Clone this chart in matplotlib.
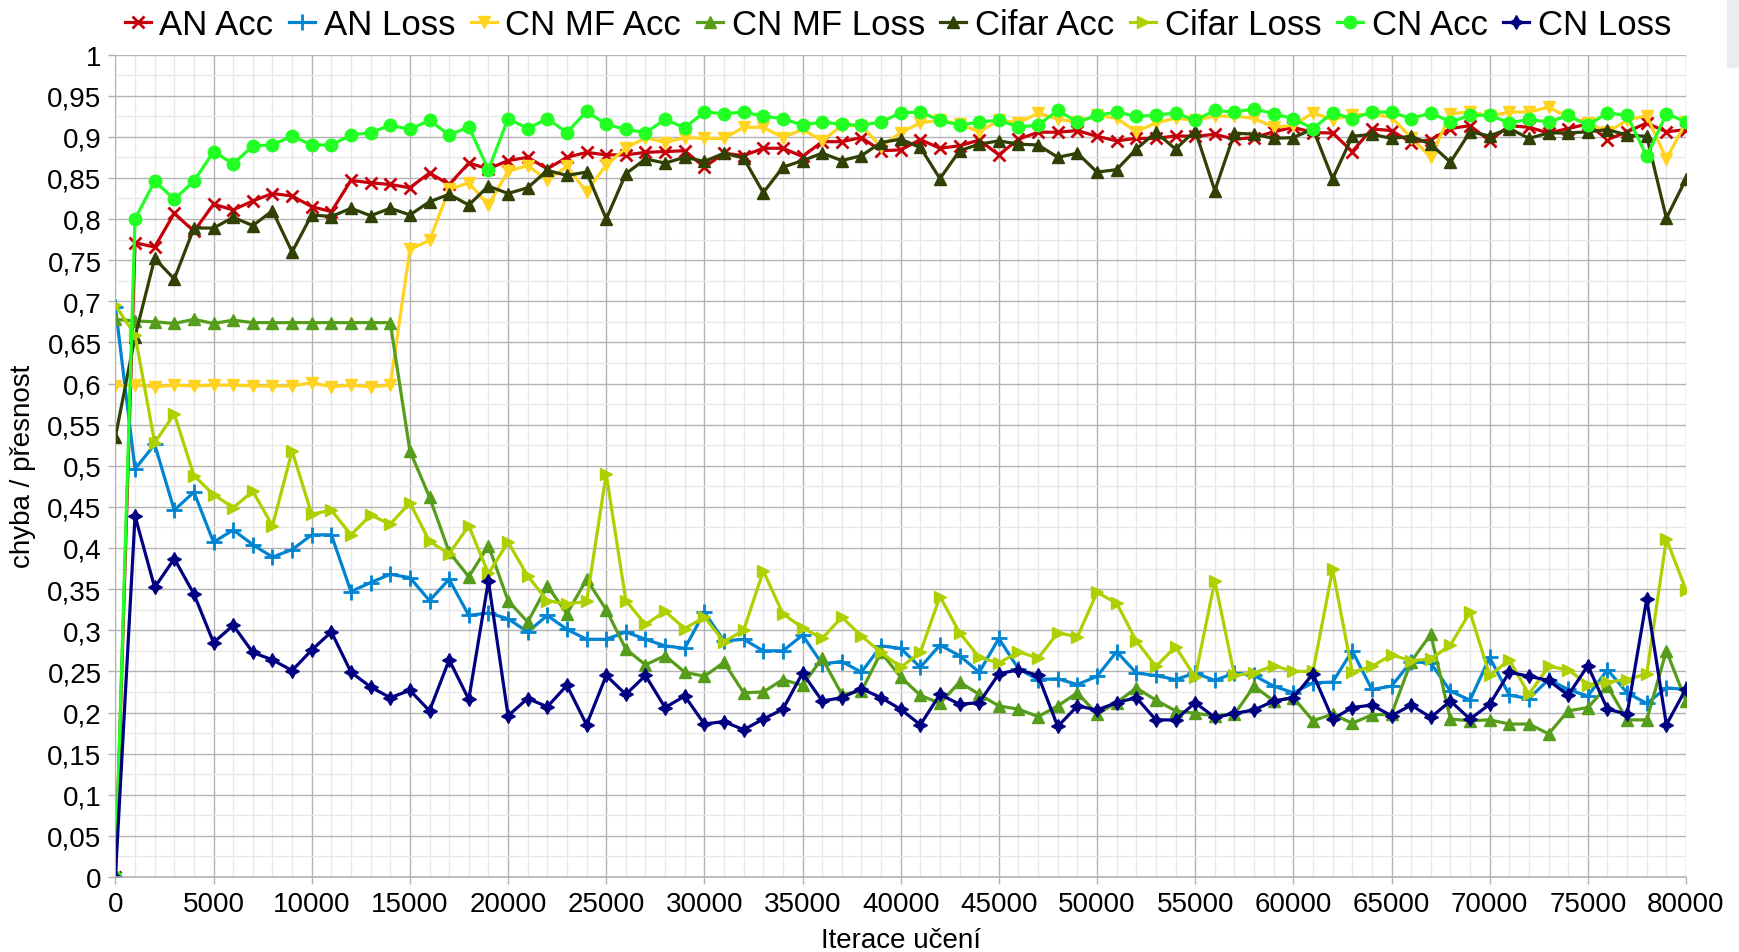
import matplotlib
matplotlib.use("Agg")
import matplotlib.pyplot as plt
from matplotlib.patches import Rectangle
import numpy as np

plt.rcParams['font.family'] = ['Liberation Sans', 'DejaVu Sans']

iterations = list(range(0, 81000, 1000))

an_acc = [0.0,
          0.771, 0.766, 0.807, 0.785, 0.818, 0.811, 0.822, 0.831, 0.828, 0.815,
          0.809, 0.847, 0.844, 0.842, 0.838, 0.856, 0.842, 0.868, 0.861, 0.871,
          0.875, 0.861, 0.875, 0.881, 0.878, 0.878, 0.881, 0.882, 0.883, 0.863,
          0.880, 0.877, 0.886, 0.886, 0.876, 0.894, 0.894, 0.899, 0.883, 0.884,
          0.8965, 0.886, 0.889, 0.896, 0.878, 0.897, 0.9055, 0.9055, 0.9075, 0.9005,
          0.895, 0.898, 0.898, 0.901, 0.9005, 0.903, 0.897, 0.899, 0.906, 0.9115,
          0.905, 0.9046, 0.882, 0.9095, 0.9075, 0.893, 0.8965, 0.910, 0.9135, 0.895,
          0.9135, 0.9115, 0.9046, 0.910, 0.9155, 0.8965, 0.906, 0.9167, 0.906, 0.9087]

an_loss = [0.693,
           0.496, 0.526, 0.446, 0.468, 0.407, 0.422, 0.404, 0.389, 0.398, 0.416,
           0.416, 0.347, 0.358, 0.368, 0.364, 0.336, 0.362, 0.318, 0.321, 0.314,
           0.298, 0.318, 0.301, 0.289, 0.289, 0.298, 0.289, 0.281, 0.278, 0.322,
           0.287, 0.289, 0.275, 0.275, 0.294, 0.259, 0.262, 0.249, 0.281, 0.278,
           0.255, 0.282, 0.269, 0.249, 0.290, 0.253, 0.240, 0.241, 0.234, 0.244,
           0.274, 0.248, 0.245, 0.240, 0.248, 0.239, 0.248, 0.245, 0.232, 0.224,
           0.236, 0.237, 0.275, 0.228, 0.232, 0.262, 0.260, 0.226, 0.215, 0.267,
           0.221, 0.217, 0.240, 0.228, 0.220, 0.252, 0.224, 0.211, 0.230, 0.228]

cn_mf_acc = [0.597,
             0.598, 0.596, 0.598, 0.597, 0.598, 0.598, 0.597, 0.597, 0.597, 0.601,
             0.596, 0.598, 0.596, 0.598, 0.763, 0.774, 0.836, 0.844, 0.817, 0.858,
             0.865, 0.847, 0.864, 0.833, 0.866, 0.886, 0.899, 0.893, 0.899, 0.898,
             0.898, 0.9115, 0.9115, 0.899, 0.909, 0.895, 0.9135, 0.9135, 0.888, 0.905,
             0.917, 0.920, 0.9155, 0.906, 0.920, 0.917, 0.9285, 0.9216, 0.9176, 0.926,
             0.9224, 0.906, 0.917, 0.9224, 0.920, 0.925, 0.925, 0.9224, 0.9115, 0.914,
             0.929, 0.9208, 0.9265, 0.9277, 0.9236, 0.899, 0.875, 0.9277, 0.9305, 0.925,
             0.930, 0.930, 0.936, 0.9236, 0.917, 0.9055, 0.920, 0.9257, 0.873, 0.9176]

cn_mf_loss = [0.678,
              0.676, 0.675, 0.673, 0.678, 0.673, 0.677, 0.674, 0.674, 0.674, 0.674,
              0.674, 0.674, 0.674, 0.674, 0.518, 0.462, 0.395, 0.365, 0.403, 0.336,
              0.310, 0.354, 0.320, 0.362, 0.325, 0.277, 0.258, 0.269, 0.249, 0.244,
              0.261, 0.224, 0.225, 0.240, 0.233, 0.266, 0.222, 0.226, 0.273, 0.243,
              0.221, 0.211, 0.237, 0.222, 0.208, 0.204, 0.195, 0.208, 0.224, 0.198,
              0.212, 0.230, 0.215, 0.202, 0.199, 0.196, 0.198, 0.232, 0.214, 0.218,
              0.190, 0.198, 0.187, 0.197, 0.198, 0.262, 0.295, 0.192, 0.190, 0.191,
              0.186, 0.186, 0.174, 0.202, 0.206, 0.232, 0.191, 0.191, 0.275, 0.214]

cifar_acc = [0.535,
             0.657, 0.752, 0.727, 0.789, 0.789, 0.802, 0.792, 0.810, 0.760, 0.805,
             0.803, 0.813, 0.804, 0.813, 0.805, 0.821, 0.830, 0.817, 0.840, 0.831,
             0.838, 0.859, 0.853, 0.857, 0.800, 0.855, 0.873, 0.868, 0.875, 0.870,
             0.880, 0.874, 0.832, 0.863, 0.871, 0.880, 0.871, 0.877, 0.893, 0.897,
             0.887, 0.849, 0.883, 0.891, 0.895, 0.891, 0.890, 0.875, 0.880, 0.857,
             0.860, 0.885, 0.9055, 0.885, 0.9075, 0.8345, 0.9045, 0.903, 0.898, 0.899,
             0.9095, 0.849, 0.9005, 0.903, 0.898, 0.9005, 0.891, 0.869, 0.906, 0.901,
             0.910, 0.898, 0.9046, 0.9046, 0.906, 0.9087, 0.902, 0.9005, 0.801, 0.8487]

cifar_loss = [0.695,
              0.659, 0.528, 0.563, 0.488, 0.465, 0.449, 0.469, 0.427, 0.518, 0.441,
              0.446, 0.416, 0.440, 0.429, 0.455, 0.408, 0.393, 0.427, 0.369, 0.407,
              0.366, 0.336, 0.332, 0.335, 0.490, 0.336, 0.307, 0.323, 0.302, 0.316,
              0.286, 0.300, 0.372, 0.320, 0.303, 0.290, 0.316, 0.293, 0.273, 0.255,
              0.273, 0.341, 0.297, 0.267, 0.260, 0.274, 0.266, 0.297, 0.292, 0.346,
              0.333, 0.287, 0.256, 0.280, 0.243, 0.360, 0.245, 0.248, 0.257, 0.250,
              0.250, 0.374, 0.249, 0.256, 0.270, 0.263, 0.265, 0.282, 0.322, 0.245,
              0.264, 0.222, 0.256, 0.252, 0.234, 0.237, 0.240, 0.247, 0.411, 0.349]

cn_acc = [0.0,
          0.800, 0.846, 0.824, 0.846, 0.882, 0.867, 0.889, 0.890, 0.901, 0.890,
          0.890, 0.902, 0.905, 0.914, 0.909, 0.920, 0.902, 0.912, 0.860, 0.922,
          0.910, 0.922, 0.905, 0.931, 0.915, 0.909, 0.905, 0.921, 0.911, 0.930,
          0.928, 0.930, 0.925, 0.922, 0.914, 0.918, 0.915, 0.914, 0.918, 0.929,
          0.930, 0.920, 0.914, 0.918, 0.920, 0.912, 0.914, 0.932, 0.918, 0.926,
          0.930, 0.925, 0.926, 0.929, 0.920, 0.932, 0.930, 0.934, 0.928, 0.922,
          0.910, 0.929, 0.922, 0.930, 0.930, 0.922, 0.929, 0.918, 0.926, 0.926,
          0.917, 0.921, 0.918, 0.926, 0.914, 0.929, 0.926, 0.876, 0.928, 0.918]

cn_loss = [0.0,
           0.439, 0.352, 0.387, 0.344, 0.285, 0.306, 0.273, 0.264, 0.251, 0.276,
           0.298, 0.249, 0.231, 0.218, 0.227, 0.202, 0.264, 0.216, 0.360, 0.196,
           0.217, 0.207, 0.233, 0.185, 0.245, 0.222, 0.245, 0.206, 0.220, 0.186,
           0.189, 0.179, 0.192, 0.204, 0.248, 0.214, 0.218, 0.229, 0.218, 0.204,
           0.185, 0.222, 0.210, 0.212, 0.247, 0.252, 0.245, 0.183, 0.208, 0.203,
           0.212, 0.218, 0.191, 0.191, 0.212, 0.194, 0.199, 0.203, 0.214, 0.218,
           0.247, 0.192, 0.206, 0.209, 0.196, 0.209, 0.194, 0.214, 0.192, 0.210,
           0.249, 0.244, 0.239, 0.221, 0.257, 0.204, 0.198, 0.338, 0.185, 0.229]

series_names = ["AN Acc", "AN Loss", "CN MF Acc", "CN MF Loss",
                "Cifar Acc", "Cifar Loss", "CN Acc", "CN Loss"]
series_values = [an_acc, an_loss, cn_mf_acc, cn_mf_loss,
                 cifar_acc, cifar_loss, cn_acc, cn_loss]

x_ticks = list(range(0, 80001, 5000))
y_ticks = [i * 0.05 for i in range(21)]
y_tick_labels = ["0", "0,05", "0,1", "0,15", "0,2", "0,25", "0,3", "0,35", "0,4",
                 "0,45", "0,5", "0,55", "0,6", "0,65", "0,7", "0,75", "0,8",
                 "0,85", "0,9", "0,95", "1"]

colors = ["#c5000b", "#0084d1", "#ffd320", "#579d1c",
          "#314004", "#aecf00", "#22ff22", "#000080"]
markers = ["x", "+", "v", "^", "^", ">", "o", (4, 1, 0)]
msizes = [9, 11, 9, 9, 9, 9, 9, 10]

fig = plt.figure(figsize=(17.4, 9.53), dpi=100)
ax = fig.add_axes([115.4 / 1740, 1 - 878 / 953, (1686 - 115.4) / 1740, (878 - 55.5) / 953])

for name, vals, c, m, ms in zip(series_names, series_values, colors, markers, msizes):
    ax.plot(iterations, vals, color=c, marker=m, markersize=ms, linewidth=2.3,
            markeredgewidth=2.0 if m in ("x", "+") else 1.0, label=name)

ax.set_xlim(0, 80000)
ax.set_ylim(0, 1)
ax.set_xticks(x_ticks)
ax.set_xticklabels([str(v) for v in x_ticks])
ax.set_yticks(y_ticks)
ax.set_yticklabels(y_tick_labels)
ax.set_xticks(list(range(0, 80001, 1000)), minor=True)
ax.set_yticks([i * 0.025 for i in range(41)], minor=True)
ax.grid(which="minor", color="#e8e8e8", linewidth=1.0)
ax.grid(which="major", color="#b3b3b3", linewidth=1.0)
ax.set_axisbelow(True)
for s in ax.spines.values():
    s.set_visible(False)
ax.spines["bottom"].set_visible(True)
ax.spines["bottom"].set_color("#b3b3b3")
ax.spines["bottom"].set_linewidth(1.2)
ax.spines["left"].set_visible(True)
ax.spines["left"].set_color("#b3b3b3")
ax.tick_params(axis="both", which="major", labelsize=20, color="#b3b3b3",
               length=5, width=1, pad=5)
ax.tick_params(axis="both", which="minor", length=0)

ax.set_xlabel("Iterace učení", fontsize=20, labelpad=7)
ax.set_ylabel("chyba / přesnost", fontsize=20, labelpad=8)

fig.legend(loc="center", bbox_to_anchor=(0.516, 0.973), ncol=8, frameon=False,
           fontsize=25, handlelength=0.75, handletextpad=0.25, columnspacing=0.45,
           borderaxespad=0)

fig.patches.append(Rectangle((1727 / 1740, 1 - 68 / 953), 13 / 1740, 68 / 953,
                             transform=fig.transFigure, color="#ececec", zorder=0))

fig.savefig("out.png", dpi=100)
